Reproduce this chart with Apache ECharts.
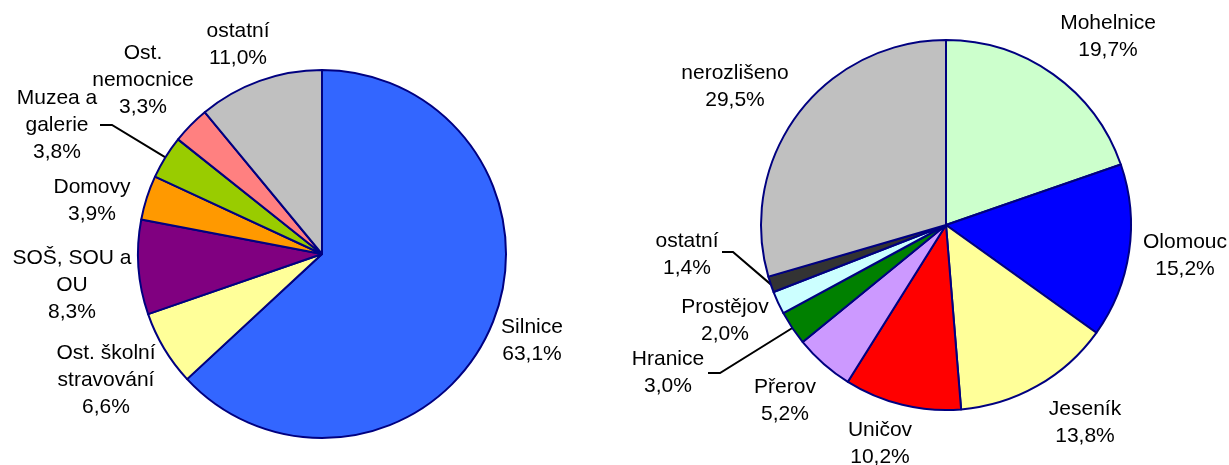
<!DOCTYPE html>
<html>
<head>
<meta charset="utf-8">
<script src="https://cdn.jsdelivr.net/npm/echarts@6.0.0/dist/echarts.min.js"></script>
<style>
  html, body { margin: 0; padding: 0; background: #fff; }
  #chart { width: 1229px; height: 465px; }
</style>
</head>
<body>
<div id="chart"></div>
<script>
// levý graf
const leftNames = ['Silnice', 'Ost. školní\nstravování', 'SOŠ, SOU a\nOU', 'Domovy', 'Muzea a\ngalerie', 'Ost.\nnemocnice', 'ostatní'];
const leftValues = [63.1, 6.6, 8.3, 3.9, 3.8, 3.3, 11.0];

// pravý graf
const rightNames = ['Mohelnice', 'Olomouc', 'Jeseník', 'Uničov', 'Přerov', 'Hranice', 'Prostějov', 'ostatní', 'nerozlišeno'];
const rightValues = [19.7, 15.2, 13.8, 10.2, 5.2, 3.0, 2.0, 1.4, 29.5];

const leftColors = ['#3366FF', '#FFFF99', '#800080', '#FF9900', '#99CC00', '#FF8080', '#C0C0C0'];
const rightColors = ['#CCFFCC', '#0000FF', '#FFFF99', '#FF0000', '#CC99FF', '#008000', '#CCFFFF', '#333333', '#C0C0C0'];

// umístění popisků (ručně jako v Excelu)
const leftLabelPos = [[532, 341], [106, 380], [72, 285], [92, 201], [57, 125], [143, 80], [238, 45]];
const leftElbows = { 4: [[112, 125], [100, 125]] };
const rightLabelPos = [[1108, 37], [1185, 256], [1085, 423], [880, 444], [785, 401], [668, 373], [725, 321], [687, 255], [735, 87]];
const rightElbows = { 5: [[720, 373], [708, 373]], 7: [[733, 252], [722, 252]] };

function fmt(p) {
  return p.name + '\n' + p.value.toFixed(1).replace('.', ',') + '%';
}

function makeData(names, values, colors, elbows) {
  return names.map(function (n, i) {
    return {
      name: n,
      value: values[i],
      itemStyle: { color: colors[i] },
      labelLine: { show: !!elbows[i] }
    };
  });
}

function makeLayout(pos, elbows) {
  return function (params) {
    const p = pos[params.dataIndex];
    const res = { x: p[0], y: p[1], align: 'center', verticalAlign: 'middle' };
    const e = elbows[params.dataIndex];
    if (e && params.labelLinePoints) {
      const a = params.labelLinePoints[0];
      res.labelLinePoints = [[a[0], a[1]]].concat(e);
    }
    return res;
  };
}

const common = {
  type: 'pie',
  startAngle: 90,
  clockwise: true,
  avoidLabelOverlap: false,
  emphasis: { disabled: true },
  itemStyle: { borderColor: '#000080', borderWidth: 2 },
  label: {
    show: true,
    position: 'outside',
    formatter: fmt,
    color: '#000',
    fontFamily: 'Liberation Sans, Arial, sans-serif',
    fontSize: 21,
    lineHeight: 27
  },
  labelLine: {
    show: false,
    lineStyle: { color: '#000', width: 2 }
  }
};

const chart = echarts.init(document.getElementById('chart'));
const option = {
  animation: false,
  series: [
    Object.assign({}, common, {
      center: [322, 254],
      radius: 184,
      data: makeData(leftNames, leftValues, leftColors, leftElbows),
      labelLayout: makeLayout(leftLabelPos, leftElbows)
    }),
    Object.assign({}, common, {
      center: [946, 225],
      radius: 185,
      data: makeData(rightNames, rightValues, rightColors, rightElbows),
      labelLayout: makeLayout(rightLabelPos, rightElbows)
    })
  ]
};
chart.setOption(option);
</script>
</body>
</html>
